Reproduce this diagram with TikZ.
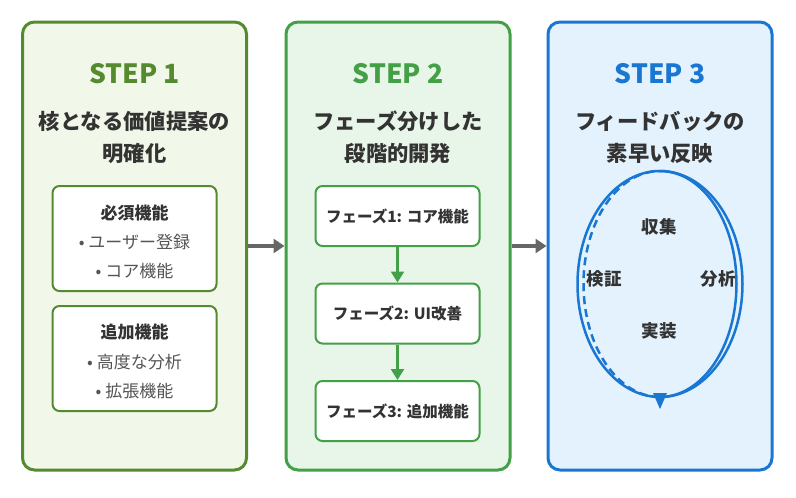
\documentclass[tikz,border=0pt]{standalone}
\usepackage{fontspec}
\setmainfont{Noto Sans CJK JP}
\usetikzlibrary{arrows.meta}
\definecolor{gA}{HTML}{558B2F}
\definecolor{gAfill}{HTML}{F1F8E9}
\definecolor{gB}{HTML}{43A047}
\definecolor{gBfill}{HTML}{E8F5E9}
\definecolor{bC}{HTML}{1976D2}
\definecolor{bCfill}{HTML}{E3F2FD}
\definecolor{txt}{HTML}{333333}
\definecolor{txtgray}{HTML}{555555}
\definecolor{conn}{HTML}{666666}
\tikzset{
  stepbox/.style={draw, line width=3pt, rounded corners=12pt, minimum width=224pt, minimum height=448pt, inner sep=0pt},
  innerbox/.style={draw, fill=white, line width=2pt, rounded corners=7pt, minimum width=164pt, inner sep=0pt},
  title/.style={font=\fontsize{26.5}{30}\selectfont\bfseries, anchor=center},
  subtitle/.style={font=\fontsize{21.3}{24}\selectfont\bfseries, text=txt, anchor=center},
  head/.style={font=\fontsize{17}{20}\selectfont\bfseries, text=txt, anchor=center},
  item/.style={font=\fontsize{17}{20}\selectfont, text=txtgray, anchor=center},
  phase/.style={font=\fontsize{15.5}{18}\selectfont\bfseries, text=txt, anchor=center},
  cyc/.style={font=\fontsize{17.5}{20}\selectfont\bfseries, text=txt, anchor=center},
  bigarrow/.style={draw=conn, line width=4pt, -{Triangle[length=11pt,width=14pt]}},
  phasearrow/.style={draw=gB, line width=2.4pt, -{Triangle[length=11pt,width=13pt]}},
}
\begin{document}
\begin{tikzpicture}[x=1pt,y=-1pt]
\useasboundingbox (0,0) rectangle (796,498);
% step boxes
\node[stepbox, draw=gA, fill=gAfill] (s1) at (134.5,246) {};
\node[stepbox, draw=gB, fill=gBfill] (s2) at (398,246) {};
\node[stepbox, draw=bC, fill=bCfill] (s3) at (660,246) {};
% connectors
\draw[bigarrow] (s1.east) -- (s2.west);
\draw[bigarrow] (s2.east) -- (s3.west);
% STEP 1
\node[title, text=gA] (t1) at (134.5,74) {STEP 1};
\node[subtitle] (st1a) at (134.5,121) {核となる価値提案の};
\node[subtitle] (st1b) at (134.5,153) {明確化};
\node[innerbox, draw=gA, minimum height=105pt] (b1) at (134.5,238.5) {};
\node[head] (h1) at (134.5,213) {必須機能};
\node[item] (i1) at (134.5,242) {• ユーザー登録};
\node[item] (i2) at (134.5,271) {• コア機能};
\node[innerbox, draw=gA, minimum height=105pt] (b2) at (134.5,358.5) {};
\node[head] (h2) at (134.5,332) {追加機能};
\node[item] (i3) at (134.5,362) {• 高度な分析};
\node[item] (i4) at (134.5,391) {• 拡張機能};
% STEP 2
\node[title, text=gB] (t2) at (398,74) {STEP 2};
\node[subtitle] (st2a) at (398,121) {フェーズ分けした};
\node[subtitle] (st2b) at (398,153) {段階的開発};
\node[innerbox, draw=gB, minimum height=60pt] (p1) at (397.5,216) {};
\node[phase] at (p1.center) {フェーズ1: コア機能};
\node[innerbox, draw=gB, minimum height=60pt] (p2) at (397.5,313.5) {};
\node[phase] at (p2.center) {フェーズ2: UI改善};
\node[innerbox, draw=gB, minimum height=60pt] (p3) at (397.5,411) {};
\node[phase] at (p3.center) {フェーズ3: 追加機能};
\draw[phasearrow] (p1.south) -- (p2.north);
\draw[phasearrow] (p2.south) -- (p3.north);
% STEP 3
\node[title, text=bC] (t3) at (660,74) {STEP 3};
\node[subtitle] (st3a) at (660,121) {フィードバックの};
\node[subtitle] (st3b) at (660,153) {素早い反映};
\coordinate (c) at (660,284);
\draw[bC, line width=2.5pt] (c) ellipse [x radius=82.5pt, y radius=113pt];
\draw[bC, line width=2.5pt] (660,171) arc[start angle=90, end angle=-90, x radius=76.5pt, y radius=113pt];
\draw[bC, line width=2.5pt, dash pattern=on 8pt off 5pt] (660,397) arc[start angle=-90, end angle=-270, x radius=76.5pt, y radius=113pt];
\fill[bC] (653,393) -- (667,393) -- (660,409) -- cycle;
\node[cyc] (n1) at (659,227) {収集};
\node[cyc] (n2) at (718,279) {分析};
\node[cyc] (n3) at (659,331) {実装};
\node[cyc] (n4) at (604,279) {検証};
\end{tikzpicture}
\end{document}
